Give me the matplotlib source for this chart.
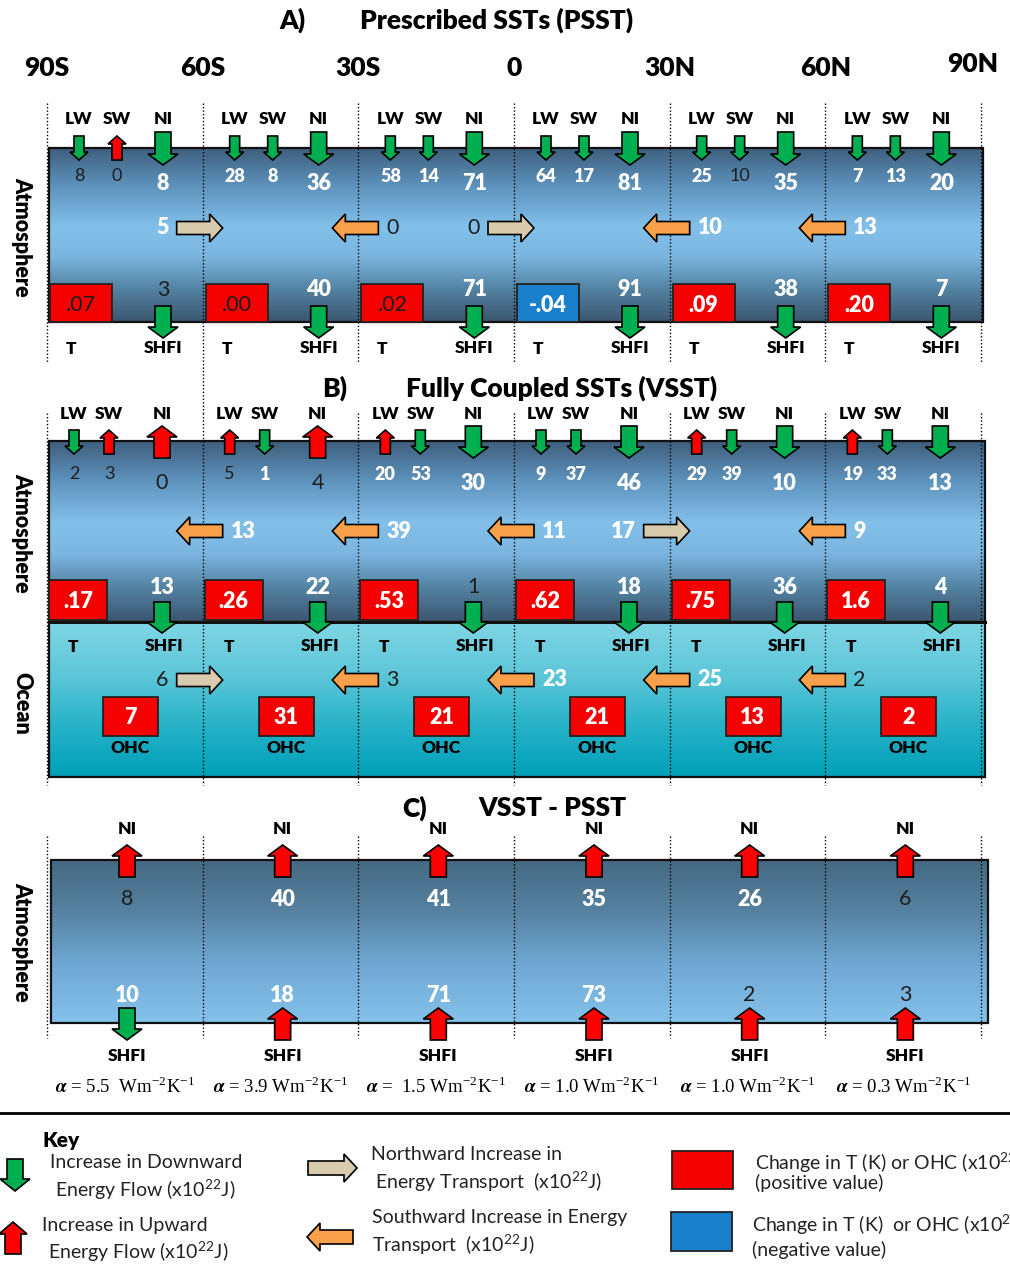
import matplotlib
matplotlib.use("Agg")
import matplotlib.pyplot as plt
import numpy as np
from matplotlib.patches import Polygon, Rectangle
from matplotlib.colors import LinearSegmentedColormap

plt.rcParams['font.family'] = ['Lato', 'DejaVu Sans']
plt.rcParams['mathtext.fontset'] = 'stix'

############################################################
# data
############################################################
lat_labels = ['90S', '60S', '30S', '0', '30N', '60N', '90N']

# A) prescribed SSTs
a_lw = [8, 28, 58, 64, 25, 7]
a_lw_dir = ['d', 'd', 'd', 'd', 'd', 'd']
a_lw_sig = [0, 1, 1, 1, 1, 1]
a_sw = [0, 8, 14, 17, 10, 13]
a_sw_dir = ['u', 'd', 'd', 'd', 'd', 'd']
a_sw_sig = [0, 1, 1, 1, 0, 1]
a_ni = [8, 36, 71, 81, 35, 20]
a_ni_dir = ['d', 'd', 'd', 'd', 'd', 'd']
a_ni_sig = [1, 1, 1, 1, 1, 1]
a_shfi = [3, 40, 71, 91, 38, 7]
a_shfi_sig = [0, 1, 1, 1, 1, 1]
a_temp = [0.07, 0.00, 0.02, -0.04, 0.09, 0.20]
a_temp_lbl = ['.07', '.00', '.02', '-.04', '.09', '.20']
a_temp_sig = [0, 0, 0, 1, 1, 1]
a_trans = [5, 0, 0, 10, 13]          # at 60S, 30S, 0, 30N, 60N
a_trans_dir = ['N', 'S', 'N', 'S', 'S']
a_trans_sig = [1, 0, 0, 1, 1]

# B) fully coupled SSTs
b_lw = [2, 5, 20, 9, 29, 19]
b_lw_dir = ['d', 'u', 'u', 'd', 'u', 'u']
b_lw_sig = [0, 0, 1, 1, 1, 1]
b_sw = [3, 1, 53, 37, 39, 33]
b_sw_dir = ['u', 'd', 'd', 'd', 'd', 'd']
b_sw_sig = [0, 1, 1, 1, 1, 1]
b_ni = [0, 4, 30, 46, 10, 13]
b_ni_dir = ['u', 'u', 'd', 'd', 'd', 'd']
b_ni_sig = [0, 0, 1, 1, 1, 1]
b_shfi = [13, 22, 1, 18, 36, 4]
b_shfi_sig = [1, 1, 0, 1, 1, 1]
b_temp = [0.17, 0.26, 0.53, 0.62, 0.75, 1.6]
b_temp_lbl = ['.17', '.26', '.53', '.62', '.75', '1.6']
b_atm_trans = [13, 39, 11, 17, 9]
b_atm_dir = ['S', 'S', 'S', 'N', 'S']
b_atm_sig = [1, 1, 1, 1, 1]
b_ocn_trans = [6, 3, 23, 25, 2]
b_ocn_dir = ['N', 'S', 'S', 'S', 'S']
b_ocn_sig = [0, 0, 1, 1, 0]
b_ohc = [7, 31, 21, 21, 13, 2]

# C) VSST - PSST
c_ni = [8, 40, 41, 35, 26, 6]
c_ni_sig = [0, 1, 1, 1, 1, 0]
c_shfi = [10, 18, 71, 73, 2, 3]
c_shfi_dir = ['d', 'u', 'u', 'u', 'u', 'u']
c_shfi_sig = [1, 1, 1, 1, 0, 0]
c_alpha = ['5.5 ', '3.9', ' 1.5', '1.0', '1.0', '0.3']

############################################################
GREEN = '#00b050'
RED = '#ff0000'
BOXRED = '#f40000'
BOXBLUE = '#1a80cc'
BEIGE = '#d8cbad'
ORANGE = '#f9a04b'
DARK = '#1e1e1e'
HEAVY = 'heavy'

fig = plt.figure(figsize=(10.1, 12.72), dpi=100)
ax = fig.add_axes([0, 0, 1, 1])
ax.set_xlim(0, 1010)
ax.set_ylim(1272, 0)
ax.axis('off')

cols = np.linspace(47, 981, 7)   # column edges (latitude lines)


def vert_arrow(x, y0, y1, shaft, head, hlen, fc):
    s = np.sign(y1 - y0)
    yb = y1 - s * hlen
    pts = [(x - shaft / 2, y0), (x + shaft / 2, y0), (x + shaft / 2, yb),
           (x + head / 2, yb), (x, y1), (x - head / 2, yb), (x - shaft / 2, yb)]
    ax.add_patch(Polygon(pts, closed=True, fc=fc, ec='black', lw=1.2, zorder=6))


def horiz_arrow(y, x0, x1, shaft, head, hlen, fc):
    s = np.sign(x1 - x0)
    xb = x1 - s * hlen
    pts = [(x0, y - shaft / 2), (x0, y + shaft / 2), (xb, y + shaft / 2),
           (xb, y + head / 2), (x1, y), (xb, y - head / 2), (xb, y - shaft / 2)]
    ax.add_patch(Polygon(pts, closed=True, fc=fc, ec='black', lw=1.2, zorder=6))


def flux_arrow(x, ytop, ybot, d, big):
    shaft, head, hlen = (16, 30, 11) if big else (10, 18, 8)
    if d == 'd':
        vert_arrow(x, ytop, ybot, shaft, head, hlen, GREEN)
    else:
        vert_arrow(x, ybot, ytop, shaft, head, hlen, RED)


def num(x, y, s, sig, size, ha='center'):
    ax.text(x, y, str(s), ha=ha, va='center', fontsize=size,
            color='white' if sig else DARK,
            fontweight=HEAVY if sig else 'normal', zorder=7)


def label(x, y, s, size=12.5):
    ax.text(x, y, s, ha='center', va='center', fontsize=size,
            fontweight=HEAVY, color='black', zorder=7)


def title(x, y, s, ha='center'):
    ax.text(x, y, s, ha=ha, va='center', fontsize=19, fontweight=HEAVY)


def gradient(x0, x1, y0, y1, stops):
    cmap = LinearSegmentedColormap.from_list('g', stops)
    grad = np.linspace(0, 1, 256).reshape(-1, 1)
    ax.imshow(grad, cmap=cmap, aspect='auto', extent=(x0, x1, y1, y0),
              origin='upper', zorder=1, interpolation='bilinear')
    ax.add_patch(Rectangle((x0, y0), x1 - x0, y1 - y0, fill=False,
                           ec='#111111', lw=1.6, zorder=3))


def dotted(x, y0, y1):
    ax.plot([x, x], [y0, y1], ls=(0, (1, 1.5)), color='black', lw=1.0, zorder=4)


def side(y, s):
    ax.text(22, y, s, rotation=-90, ha='center', va='center',
            fontsize=15.5, fontweight=HEAVY)


def transport(i, y, val, d, sig):
    b = cols[i + 1]
    if d == 'N':
        horiz_arrow(y, b - 26, b + 20, 13, 28, 13, BEIGE)
        num(b - 34, y, val, sig, 15.5, ha='right')
    else:
        horiz_arrow(y, b + 20, b - 26, 13, 28, 13, ORANGE)
        num(b + 28, y, val, sig, 15.5, ha='left')


cyl = [(0.0, '#3e5f7d'), (0.22, '#5e93bd'), (0.45, '#82c0ea'),
       (0.62, '#7bb6e0'), (0.82, '#52809f'), (1.0, '#3b5670')]

############################################################
# A) Prescribed SSTs
############################################################
title(292, 20, 'A)')
title(497, 20, 'Prescribed SSTs (PSST)')
for k, lab in enumerate(lat_labels):
    title(cols[k] + (0 if k < 6 else -8), 68 if k < 6 else 64, lab)

gradient(49, 983, 148, 322, cyl)
side(237, 'Atmosphere')
for k in range(7):
    dotted(cols[k], 103, 362 if k != 1 else 413)

for k in range(6):
    c = cols[k]
    lw_x, sw_x, ni_x = c + 32, c + 70, c + 116
    label(lw_x, 119, 'LW')
    label(sw_x, 119, 'SW')
    label(ni_x, 119, 'NI')
    flux_arrow(lw_x, 136, 160, a_lw_dir[k], False)
    flux_arrow(sw_x, 136, 160, a_sw_dir[k], False)
    flux_arrow(ni_x, 132, 165, a_ni_dir[k], True)
    num(lw_x, 176, a_lw[k], a_lw_sig[k], 13)
    num(sw_x, 176, a_sw[k], a_sw_sig[k], 13)
    num(ni_x, 184, a_ni[k], a_ni_sig[k], 15.5)

    fc = BOXRED if a_temp[k] >= 0 else BOXBLUE
    ax.add_patch(Rectangle((c + 3, 284), 62, 38, fc=fc, ec='#222222', lw=1.3, zorder=5))
    num(c + 34, 305, a_temp_lbl[k], a_temp_sig[k], 15.5)

    num(ni_x, 290, a_shfi[k], a_shfi_sig[k], 15.5)
    flux_arrow(ni_x, 306, 338, 'd', True)
    label(ni_x, 348, 'SHFI')
    label(c + 24, 349, 'T')

for i in range(5):
    transport(i, 228, a_trans[i], a_trans_dir[i], a_trans_sig[i])

############################################################
# B) Fully coupled SSTs
############################################################
title(335, 388, 'B)')
title(562, 388, 'Fully Coupled SSTs (VSST)')

gradient(49, 985, 441, 622, cyl)
gradient(49, 985, 622, 777, [(0.0, '#80d6e4'), (0.35, '#5cc6d8'),
                             (0.7, '#22b0c6'), (1.0, '#00a0b8')])
ax.plot([49, 985], [622, 622], color='#111111', lw=2.2, zorder=4)
side(533, 'Atmosphere')
side(703, 'Ocean')
for k in range(7):
    dotted(cols[k], 413, 785)

for k in range(6):
    c = cols[k]
    lw_x, sw_x, ni_x = c + 27, c + 62, c + 115
    label(lw_x, 414, 'LW')
    label(sw_x, 414, 'SW')
    label(ni_x, 414, 'NI')
    flux_arrow(lw_x, 430, 454, b_lw_dir[k], False)
    flux_arrow(sw_x, 430, 454, b_sw_dir[k], False)
    flux_arrow(ni_x, 426, 458, b_ni_dir[k], True)
    num(lw_x, 474, b_lw[k], b_lw_sig[k], 13)
    num(sw_x, 474, b_sw[k], b_sw_sig[k], 13)
    num(ni_x, 483, b_ni[k], b_ni_sig[k], 15.5)

    fc = BOXRED if b_temp[k] >= 0 else BOXBLUE
    ax.add_patch(Rectangle((c + 2, 580), 58, 40, fc=fc, ec='#222222', lw=1.3, zorder=5))
    num(c + 31, 602, b_temp_lbl[k], 1, 15.5)

    num(ni_x, 587, b_shfi[k], b_shfi_sig[k], 15.5)
    flux_arrow(ni_x, 602, 633, 'd', True)
    label(ni_x + 2, 646, 'SHFI')
    label(c + 26, 647, 'T')

    ox = c + 83
    ax.add_patch(Rectangle((ox - 27, 697), 55, 39, fc=BOXRED if b_ohc[k] >= 0 else BOXBLUE,
                           ec='#222222', lw=1.3, zorder=5))
    num(ox, 717, b_ohc[k], 1, 15.5)
    label(ox, 748, 'OHC')

for i in range(5):
    transport(i, 531, b_atm_trans[i], b_atm_dir[i], b_atm_sig[i])
    transport(i, 680, b_ocn_trans[i], b_ocn_dir[i], b_ocn_sig[i])

############################################################
# C) VSST - PSST
############################################################
title(415, 808, 'C)')
title(552, 808, 'VSST - PSST')

gradient(51, 988, 860, 1023, [(0.0, '#456982'), (0.3, '#55809f'),
                              (0.65, '#70a9d4'), (1.0, '#84c2eb')])
side(942, 'Atmosphere')
for k in range(7):
    dotted(cols[k], 836, 1038)

for k in range(6):
    x = cols[k] + 80
    label(x, 829, 'NI')
    flux_arrow(x, 845, 877, 'u', True)
    num(x, 899, c_ni[k], c_ni_sig[k], 15.5)
    num(x, 995, c_shfi[k], c_shfi_sig[k], 15.5)
    flux_arrow(x, 1008, 1040, c_shfi_dir[k], True)
    label(x, 1056, 'SHFI')
    ax.text(cols[k] + 78, 1087,
            r'$\boldsymbol{\alpha}$ = ' + c_alpha[k] + r' Wm$^{\mathregular{-2}}$K$^{\mathregular{-1}}$',
            ha='center', va='center', fontsize=13.5, family='Liberation Serif')

############################################################
# key
############################################################
ax.plot([0, 1010], [1113, 1113], color='black', lw=2.0)
ax.text(42, 1140, 'Key', ha='left', va='center', fontsize=15, fontweight=HEAVY)

vert_arrow(15, 1159, 1191, 16, 30, 12, GREEN)
vert_arrow(13, 1254, 1222, 16, 28, 12, RED)
horiz_arrow(1168, 308, 357, 14, 28, 13, BEIGE)
horiz_arrow(1237, 353, 307, 14, 28, 13, ORANGE)
ax.add_patch(Rectangle((672, 1151), 61, 38, fc=BOXRED, ec='#222222', lw=1.3))
ax.add_patch(Rectangle((671, 1212), 61, 39, fc=BOXBLUE, ec='#222222', lw=1.3))

key_txt = [
    (50, 1163, 'Increase in Downward'),
    (55, 1190, 'Energy Flow (x10$^{22}$J)'),
    (42, 1226, 'Increase in Upward'),
    (48, 1252, 'Energy Flow (x10$^{22}$J)'),
    (371, 1155, 'Northward Increase in'),
    (375, 1182, 'Energy Transport  (x10$^{22}$J)'),
    (372, 1218, 'Southward Increase in Energy'),
    (372, 1245, 'Transport  (x10$^{22}$J)'),
    (755, 1163, 'Change in T (K) or OHC (x10$^{22}$J)'),
    (755, 1183, '(positive value)'),
    (752, 1225, 'Change in T (K)  or OHC (x10$^{22}$J)'),
    (752, 1250, '(negative value)'),
]
plt.rcParams['mathtext.fontset'] = 'custom'
plt.rcParams['mathtext.rm'] = 'Lato'
for x, y, s in key_txt:
    ax.text(x, y, s, ha='left', va='center', fontsize=14, color='#222222')

fig.savefig('out.png', dpi=100)
